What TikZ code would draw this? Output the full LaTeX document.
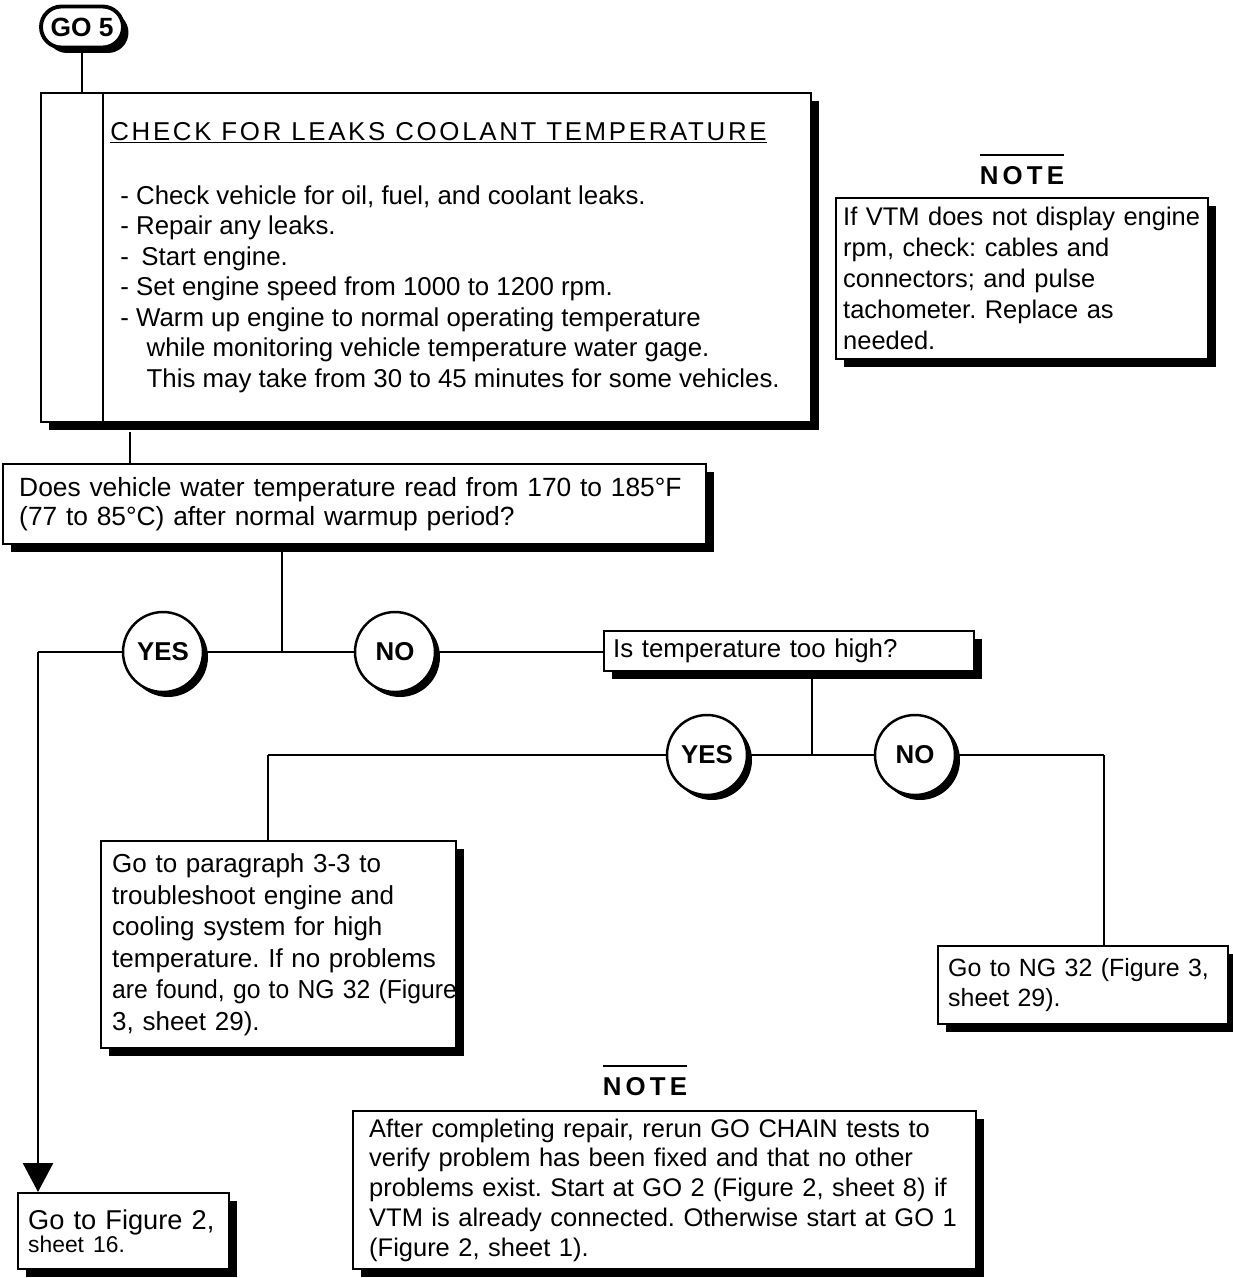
\documentclass[tikz,border=0pt]{standalone}
\usepackage{fontspec}
\setmainfont{Liberation Sans}
\newfontfamily\ttlfont[LetterSpace=10.5]{Liberation Sans}
\newfontfamily\notefont[LetterSpace=16]{Liberation Sans}
\usetikzlibrary{arrows.meta, shadows, shapes.misc, positioning}

\begin{document}
\frenchspacing\hyphenpenalty=10000
\begin{tikzpicture}[x=0.02cm, y=-0.02cm,
	font=\fontsize{14.7}{17.6}\selectfont,
	shad/.style={drop shadow={shadow xshift=0.15cm, shadow yshift=-0.15cm,
		opacity=1, fill=black}},
	box/.style={rectangle, draw, line width=1.4pt, fill=white, shad,
		anchor=north west, align=left, inner ysep=0pt},
	ans/.style={circle, draw, line width=1.4pt, fill=white, minimum size=1.6cm,
		inner sep=0pt, font=\bfseries\fontsize{14.7}{17}\selectfont,
		drop shadow={shadow xshift=0.1cm, shadow yshift=-0.1cm, opacity=1, fill=black}},
	ln/.style={line width=1.5pt},
	notelbl/.style={font=\notefont\bfseries\fontsize{14.7}{17}\selectfont,
		inner xsep=0pt, inner ysep=6.5pt}]

	\useasboundingbox (0,0) rectangle (1233,1278);

	% start badge and check box
	\node[rounded rectangle, draw, line width=2.2pt, fill=white, minimum width=1.64cm,
		minimum height=0.82cm, inner sep=0pt, font=\bfseries\fontsize{15}{15}\selectfont,
		drop shadow={shadow xshift=0.11cm, shadow yshift=-0.11cm, opacity=1, fill=black}]
		(go5) at (82,27) {GO 5};
	\node[box, minimum width=15.4cm, minimum height=6.58cm] (chk) at (40,92) {};
	\coordinate (bar) at (103,0);
	\draw[line width=1.4pt] (chk.north -| bar) -- (chk.south -| bar);
	\node[anchor=base west, inner sep=0pt] (chkttl) at (110,140)
		{\ttlfont\underline{CHECK FOR LEAKS COOLANT TEMPERATURE}};
	\node[anchor=north west, align=left, inner sep=0pt,
		font=\fontsize{14.7}{17.4}\selectfont] (chktxt) at (120,185)
		{- Check vehicle for oil, fuel, and coolant leaks.\\
		 - Repair any leaks.\\
		 - \hspace{3pt}Start engine.\\
		 - Set engine speed from 1000 to 1200 rpm.\\
		 - Warm up engine to normal operating temperature\\
		 \hspace*{15pt}while monitoring vehicle temperature water gage.\\
		 \hspace*{15pt}This may take from 30 to 45 minutes for some vehicles.};

	% note at right
	\node[notelbl] (n1lbl) at (1022,176) {NOTE};
	\node[box, minimum width=7.44cm, minimum height=3.22cm, text width=7.16cm,
		inner xsep=0.14cm, font=\fontsize{14.5}{17.6}\selectfont] (note1) at (835,197)
		{If VTM does not display engine\\ rpm, check: cables and\\
		 connectors; and pulse\\ tachometer. Replace as\\ needed.};

	% question
	\node[box, minimum width=14.06cm, minimum height=1.6cm, text width=13.42cm,
		inner xsep=0.32cm, font=\fontsize{15}{17}\selectfont] (qst) at (2,463)
		{Does vehicle water temperature read from 170 to 185°F\\
		 (77 to 85°C) after normal warmup period?};

	\node[ans] (yes1) at (163,652) {YES};
	\node[ans] (no1)  at (395,652) {NO};
	\node[box, minimum width=7.4cm, minimum height=0.8cm, text width=7.04cm,
		inner xsep=0.18cm] (isq) at (603,630) {Is temperature too high?};

	\node[ans] (yes2) at (707,755) {YES};
	\node[ans] (no2)  at (915,755) {NO};

	% results
	\node[box, minimum width=7.1cm, minimum height=4.14cm, text width=6.66cm,
		inner xsep=0.22cm, font=\fontsize{14.8}{17.9}\selectfont] (para) at (100,840)
		{Go to paragraph 3-3 to\\ troubleshoot engine and\\ cooling system for high\\
		 temperature. If no problems\\ \scalebox{0.95}[1]{are found, go to NG 32 (Figure}\\
		 3, sheet 29).};
	\node[box, minimum width=5.8cm, minimum height=1.56cm, text width=5.4cm,
		inner xsep=0.2cm, font=\fontsize{14.2}{17}\selectfont] (ng32) at (937,945)
		{Go to NG 32 (Figure 3,\\ sheet 29).};
	\node[box, minimum width=4.22cm, minimum height=1.52cm, text width=3.82cm,
		inner xsep=0.2cm, font=\fontsize{15.5}{12.5}\selectfont] (fig2) at (17,1192)
		{Go to Figure 2,\\ {\fontsize{13}{12.5}\selectfont sheet 16.}};

	% note at bottom
	\node[notelbl] (n2lbl) at (645,1087) {NOTE};
	\node[box, minimum width=12.46cm, minimum height=3.16cm, text width=11.82cm,
		inner xsep=0.32cm, font=\fontsize{14.5}{17}\selectfont] (note2) at (352,1110)
		{After completing repair, rerun GO CHAIN tests to\\
		 verify problem has been fixed and that no other\\
		 problems exist. Start at GO 2 (Figure 2, sheet 8) if\\
		 VTM is already connected. Otherwise start at GO 1\\
		 (Figure 2, sheet 1).};

	\draw[line width=1.5pt] (n1lbl.north west) -- (n1lbl.north east);
	\draw[line width=1.5pt] (n2lbl.north west) -- (n2lbl.north east);

	% connectors
	\coordinate (j1) at (130,432);
	\coordinate (j2) at (282,652);
	\coordinate (j3) at (812,755);
	\coordinate (c0) at (38,652);
	\coordinate (c1) at (268,755);
	\coordinate (c2) at (1104,755);

	\draw[ln] (go5.south) -- (go5.south |- chk.north);
	\draw[ln] (j1) -- (j1 |- qst.north);
	\draw[ln] (qst.south -| j2) -- (j2);
	\draw[ln] (c0) -- (yes1.west);
	\draw[ln] (yes1.east) -- (no1.west);
	\draw[ln] (no1.east) -- (no1.east -| isq.west);
	\draw[ln, -{Triangle[width=0.6cm, length=0.58cm]}] (c0) -- (c0 |- fig2.north);
	\draw[ln] (isq.south -| j3) -- (j3);
	\draw[ln] (c1) -- (yes2.west);
	\draw[ln] (yes2.east) -- (no2.west);
	\draw[ln] (no2.east) -- (c2);
	\draw[ln] (c1) -- (c1 |- para.north);
	\draw[ln] (c2) -- (c2 |- ng32.north);
\end{tikzpicture}
\end{document}
